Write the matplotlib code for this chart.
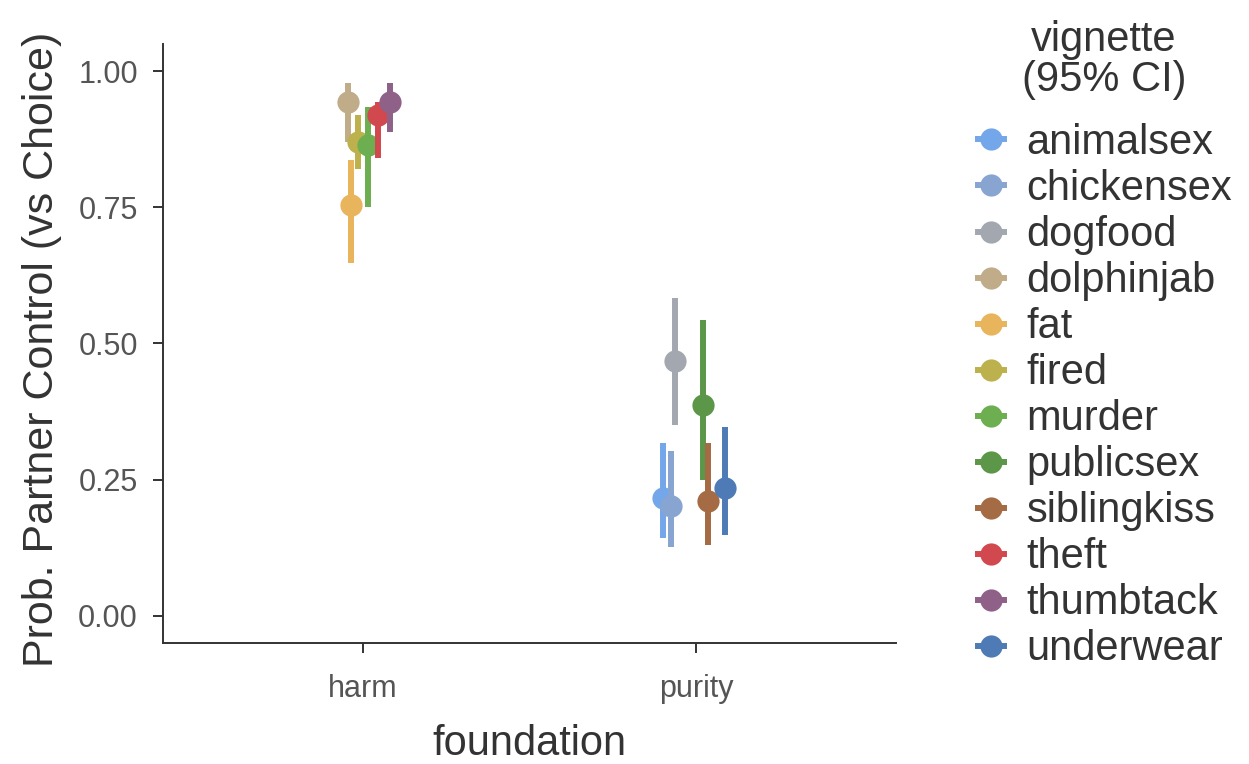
import matplotlib
matplotlib.use("Agg")
import matplotlib.pyplot as plt
from matplotlib.lines import Line2D

plt.rcParams['font.family'] = ['Liberation Sans', 'DejaVu Sans']

vignettes = ["animalsex", "chickensex", "dogfood", "dolphinjab", "fat", "fired",
             "murder", "publicsex", "siblingkiss", "theft", "thumbtack", "underwear"]
colors = ["#74A6EA", "#88A5D2", "#A3A7AF", "#C0AC89", "#E8B45C", "#BDB14D",
          "#6DAE50", "#5C9749", "#A46B45", "#D1494F", "#8F6189", "#4E7BB5"]
foundation = ["purity", "purity", "purity", "harm", "harm", "harm",
              "harm", "purity", "purity", "harm", "harm", "purity"]
estimate = [0.216, 0.201, 0.467, 0.944, 0.754, 0.870, 0.864, 0.387, 0.210, 0.919, 0.944, 0.235]
ci_low = [0.143, 0.127, 0.350, 0.870, 0.648, 0.820, 0.751, 0.250, 0.130, 0.840, 0.889, 0.149]
ci_high = [0.317, 0.302, 0.583, 0.978, 0.837, 0.920, 0.935, 0.543, 0.317, 0.944, 0.978, 0.347]
# horizontal jitter of each vignette inside its foundation
jitter = [-0.10, -0.075, -0.063, -0.045, -0.036, -0.015, 0.015, 0.019, 0.034, 0.045, 0.081, 0.087]

categories = ["harm", "purity"]

fig = plt.figure(figsize=(12.49, 7.64), dpi=100)
ax = fig.add_axes([0.1305, 0.1584, 0.587, 0.784])

for v, c, f, e, lo, hi, j in zip(vignettes, colors, foundation, estimate, ci_low, ci_high, jitter):
    x = categories.index(f) + 1 + j
    ax.plot([x, x], [lo, hi], color=c, lw=4.3, solid_capstyle='butt')
    ax.plot(x, e, 'o', color=c, ms=16, mec='none')

ax.set_xlim(0.4, 2.6)
ax.set_ylim(-0.05, 1.05)
ax.set_xticks([1, 2])
ax.set_xticklabels(categories)
ax.set_yticks([0, 0.25, 0.5, 0.75, 1.0])
ax.set_yticklabels(["0.00", "0.25", "0.50", "0.75", "1.00"])
ax.tick_params(labelsize=22, colors="#333333", labelcolor="#555555", length=7, width=1.4)
ax.tick_params(axis="y", pad=11)
ax.tick_params(axis="x", pad=15)
for s in ["top", "right"]:
    ax.spines[s].set_visible(False)
for s in ["left", "bottom"]:
    ax.spines[s].set_color("#333333")
    ax.spines[s].set_linewidth(1.4)
ax.set_xlabel("foundation", fontsize=30, color="#333333")
ax.set_ylabel("Prob. Partner Control (vs Choice)", fontsize=31, color="#333333")
ax.xaxis.set_label_coords(0.5, -0.136)
ax.yaxis.set_label_coords(-0.138, 0.49)

# legend title drawn separately so its gap to the entries can be set
fig.text(1104 / 1249, 1 - 60 / 764, "vignette\n(95% CI)", ha="center", va="center",
         fontsize=30, color="#333333", linespacing=1.0)

handles = [Line2D([], [], color=c, lw=4.3, marker='o', ms=16, mec='none') for c in colors]
leg = fig.legend(handles, vignettes, loc="upper left", bbox_to_anchor=(0.783, 0.839),
                 frameon=False, fontsize=30,
                 handlelength=0.62, handletextpad=0.55, labelspacing=0.145,
                 borderpad=0, borderaxespad=0)
for t in leg.get_texts():
    t.set_color("#333333")

fig.savefig("out.png", dpi=100)
